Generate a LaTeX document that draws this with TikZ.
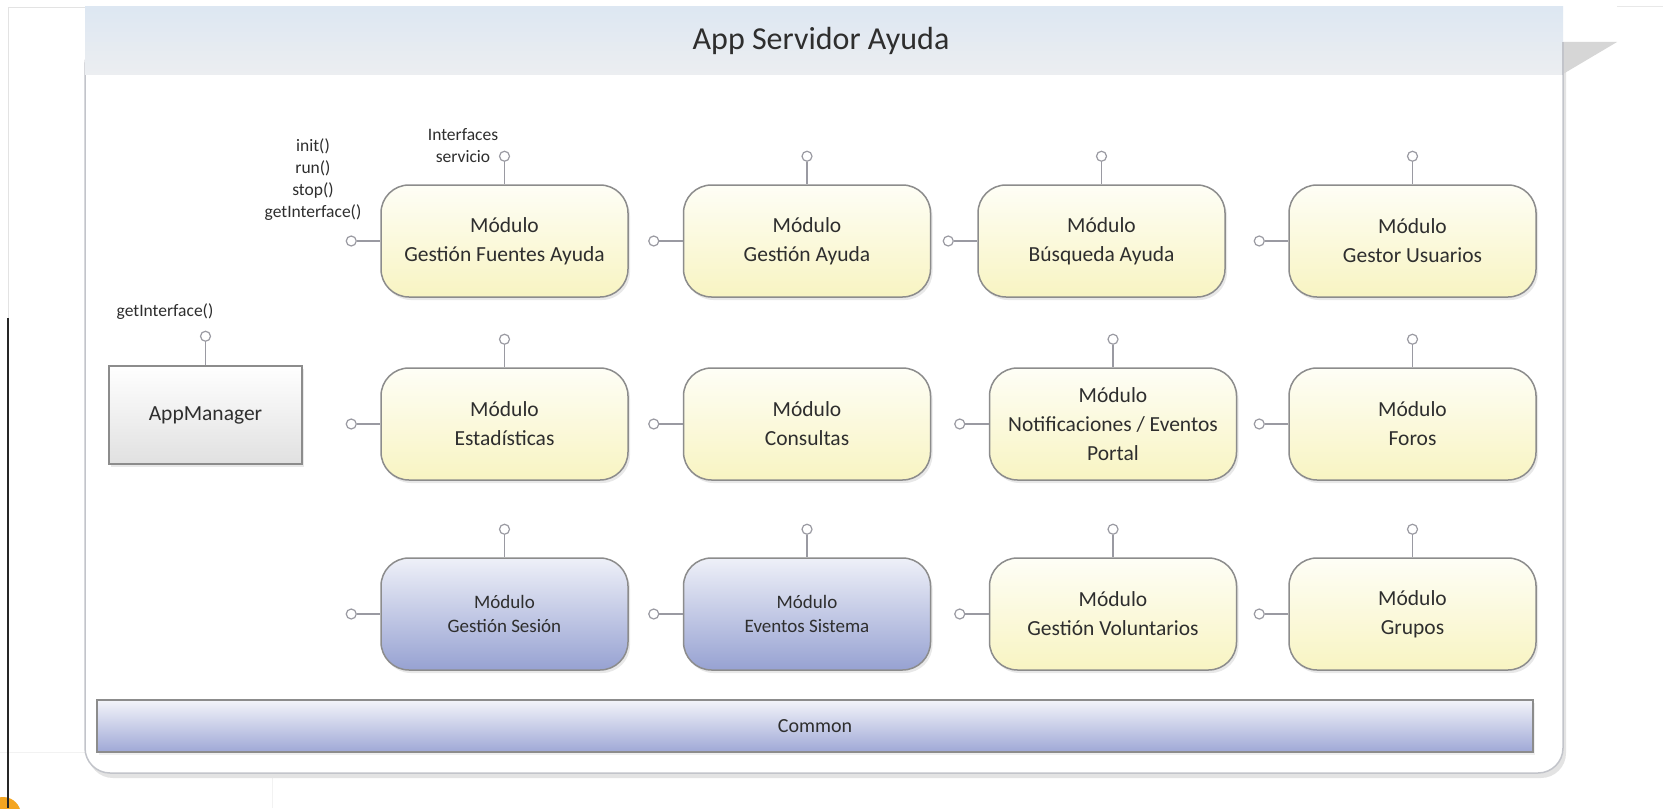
\documentclass[tikz,border=0pt]{standalone}
\usepackage{fontspec}
\setmainfont{Carlito}
\usetikzlibrary{shadows}

\definecolor{txt}{HTML}{2E2E2E}
\definecolor{boxline}{HTML}{8C8C8C}
\definecolor{ifc}{HTML}{9A9AA2}
\definecolor{ylwtop}{HTML}{FEFEF6}
\definecolor{ylwbot}{HTML}{F8F4C2}
\definecolor{blutop}{HTML}{EEF0F8}
\definecolor{blubot}{HTML}{97A2D2}
\definecolor{comtop}{HTML}{F3F4FA}
\definecolor{combot}{HTML}{9FA8D6}
\definecolor{hdrtop}{HTML}{DDE7F2}
\definecolor{hdrbot}{HTML}{ECEEF1}
\definecolor{frame}{HTML}{C2C4CA}
\definecolor{orangedot}{HTML}{F4A521}

\begin{document}
\begin{tikzpicture}[x=0.5pt,y=-0.5pt,
  module/.style={draw=boxline, line width=0.75pt, rounded corners=14pt,
    minimum width=123.5pt, minimum height=56pt, inner sep=0pt, align=center,
    font=\fontsize{10.75}{14.5}\selectfont, text=txt,
    top color=ylwtop, bottom color=ylwbot,
    drop shadow={opacity=0.18, shadow xshift=1pt, shadow yshift=-1.5pt}},
  sysmodule/.style={module, top color=blutop, bottom color=blubot,
    font=\fontsize{9.5}{12}\selectfont},
  iface/.style={circle, draw=ifc, fill=white, line width=0.6pt,
    minimum size=5pt, inner sep=0pt},
  stem/.style={draw=ifc, line width=0.75pt},
  lbl/.style={font=\fontsize{8.75}{11}\selectfont, align=center, text=txt, inner sep=0pt}]

\useasboundingbox (0,0) rectangle (1663,808);
\fill[white] (0,0) rectangle (1663,808);

% page edge marks
\draw[gray!22, line width=0.5pt] (8,8) -- (85,8);
\draw[gray!22, line width=0.5pt] (8,8) -- (8,318);
\draw[gray!18, line width=0.5pt] (1617,7) -- (1663,7);
\draw[gray!10, line width=0.5pt] (0,752) -- (85,752);
\draw[gray!10, line width=0.5pt] (272,778) -- (272,808);
\fill[orangedot] (3,815) circle (9pt);
\draw[black!85, line width=1pt] (8,318) -- (8,808);

% container body and header
\path[draw=frame, line width=0.75pt, fill=white, rounded corners=12.5pt,
  drop shadow={opacity=0.22, shadow xshift=1.5pt, shadow yshift=-2.5pt}]
  (85,40) rectangle (1563,773);
\shade[top color=hdrtop, bottom color=hdrbot] (85,7) rectangle (1563,75);
\fill[black!16] (1563,42) -- (1617,42) -- (1563,74) -- cycle;
\draw[frame, line width=0.75pt] (1563,42) -- (1563,75);
\node[font=\fontsize{16}{19}\selectfont, text=txt] (title) at (821,41) {App Servidor Ayuda};

% modules
\node[module] (m11) at (504.5,241) {Módulo\\Gestión Fuentes Ayuda};
\node[module] (m12) at (807,241) {Módulo\\Gestión Ayuda};
\node[module] (m13) at (1101.5,241) {Módulo\\Búsqueda Ayuda};
\node[module] (m14) at (1412.5,241) {Módulo\\Gestor Usuarios};

\node[module] (m21) at (504.5,424) {Módulo\\Estadísticas};
\node[module] (m22) at (807,424) {Módulo\\Consultas};
\node[module] (m23) at (1113,424) {Módulo\\Notificaciones / Eventos\\Portal};
\node[module] (m24) at (1412.5,424) {Módulo\\Foros};

\node[sysmodule] (m31) at (504.5,614) {Módulo\\Gestión Sesión};
\node[sysmodule] (m32) at (807,614) {Módulo\\Eventos Sistema};
\node[module] (m33) at (1113,614) {Módulo\\Gestión Voluntarios};
\node[module] (m34) at (1412.5,614) {Módulo\\Grupos};

% service interfaces (top) and lifecycle interfaces (left)
\foreach \m in {m11,m12,m13,m14,m21,m23,m24,m31,m32,m33,m34}{
  \node[iface] (\m-top) at ([yshift=14pt]\m.north) {};
  \draw[stem] (\m-top) -- (\m.north);
}
\foreach \m in {m11,m12,m13,m14,m21,m22,m23,m24,m31,m32,m33,m34}{
  \node[iface] (\m-left) at ([xshift=-14.5pt]\m.west) {};
  \draw[stem] (\m-left) -- (\m.west);
}

% application manager
\node[draw=boxline, line width=0.75pt, top color=white, bottom color=black!12,
  minimum width=96.5pt, minimum height=49pt, inner sep=0pt,
  font=\fontsize{10.75}{13}\selectfont, text=txt,
  drop shadow={opacity=0.18, shadow xshift=1pt, shadow yshift=-1.5pt}]
  (appmgr) at (205.5,415) {AppManager};
\node[iface] (appmgr-top) at ([yshift=14.5pt]appmgr.north) {};
\draw[stem] (appmgr-top) -- (appmgr.north);

% labels
\node[lbl] (lifecycle) at (313,180) {init()\\run()\\stop()\\getInterface()};
\node[lbl] (svcifc) at (463,146) {Interfaces\\servicio};
\node[lbl] (mgrifc) at (165,312) {getInterface()};

% common layer
\node[draw=boxline, line width=0.75pt, top color=comtop, bottom color=combot,
  minimum width=718pt, minimum height=26pt, inner sep=0pt,
  font=\fontsize{10}{12}\selectfont, text=txt,
  drop shadow={opacity=0.12, shadow xshift=1pt, shadow yshift=-1.5pt}]
  (common) at (815,726) {Common};
\end{tikzpicture}
\end{document}
